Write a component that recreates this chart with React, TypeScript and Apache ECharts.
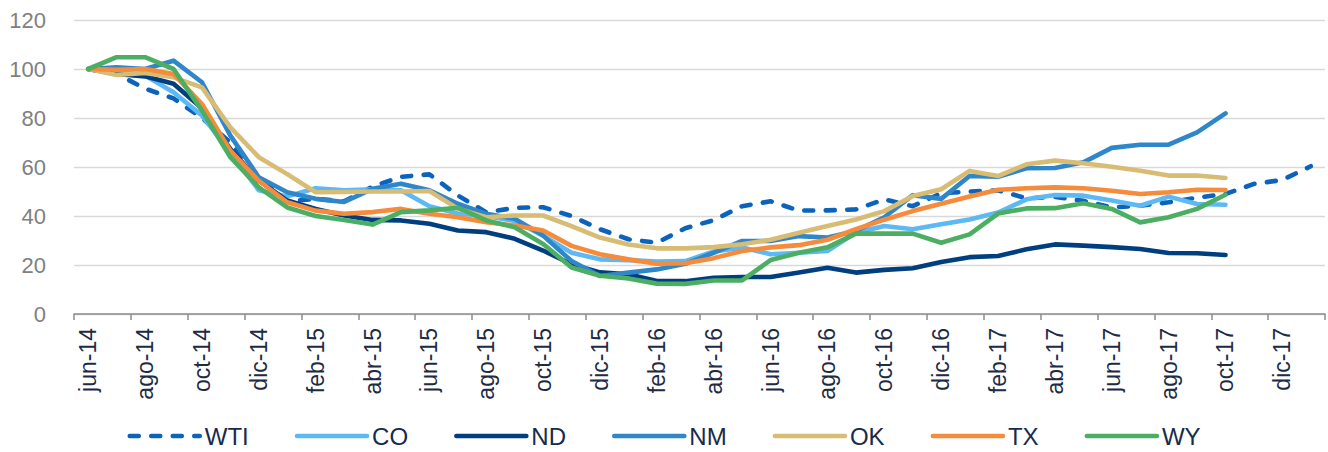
import React, { useEffect, useRef } from "react";
import * as echarts from "echarts";

const months = [
  "jun-14", "jul-14", "ago-14", "sep-14", "oct-14", "nov-14", "dic-14", "ene-15", "feb-15", "mar-15",
  "abr-15", "may-15", "jun-15", "jul-15", "ago-15", "sep-15", "oct-15", "nov-15", "dic-15", "ene-16",
  "feb-16", "mar-16", "abr-16", "may-16", "jun-16", "jul-16", "ago-16", "sep-16", "oct-16", "nov-16",
  "dic-16", "ene-17", "feb-17", "mar-17", "abr-17", "may-17", "jun-17", "jul-17", "ago-17", "sep-17",
  "oct-17", "nov-17", "dic-17", "ene-18",
];

const wti = [
  100, 98, 92, 88, 80, 70, 56, 46, 47, 46,
  52, 56, 57, 48.4, 41.5, 43.3, 43.6, 40, 34.6, 30.5,
  29.1, 35, 38.3, 44, 46, 42.2, 42.3, 42.7, 46.8, 44,
  49.3, 50, 50.5, 47.2, 47.8, 46.2, 43.5, 44.2, 45.6, 47.5,
  49, 53.1, 54.7, 60.3,
];
const co = [
  100, 99, 97.3, 90.5, 81, 66, 50.5, 48, 51.3, 50.5,
  50.9, 50.5, 44, 41, 40, 38, 32, 25, 22.3, 22,
  21.4, 21.6, 25.5, 27.1, 24.4, 25, 25.7, 33.2, 35.9, 34.6,
  36.6, 38.6, 41.4, 46.8, 48.6, 48.3, 46.3, 44.2, 47.9, 44.9,
  44.6,
];
const nd = [
  100, 98, 97, 94, 84, 67.3, 54.4, 46.3, 42.9, 40.2,
  38.4, 38.2, 36.8, 34.1, 33.4, 30.7, 25.9, 20.3, 17, 16.2,
  13.5, 13.4, 14.8, 15.1, 15.1, 16.9, 18.9, 16.9, 18, 18.7,
  21.2, 23.2, 23.7, 26.4, 28.4, 27.9, 27.3, 26.5, 24.9, 24.8,
  24.1,
];
const nm = [
  100, 100.7, 100, 103.4, 94.6, 72.8, 55.8, 49.7, 47, 45.7,
  51.1, 53.2, 50.5, 45, 40.9, 38.9, 32, 21.6, 15.5, 16.9,
  18.2, 20.5, 25, 29.8, 29.8, 31.8, 31.2, 33.9, 39.5, 48.5,
  47, 56.3, 56, 59.5, 59.6, 61.9, 67.8, 69.1, 69.1, 74.1,
  81.9,
];
const ok = [
  100, 97.6, 98.4, 96.6, 92.5, 76.2, 64, 57.1, 49.7, 49.8,
  50, 50, 50.2, 43, 39.5, 40.2, 40.2, 35.9, 31.2, 28.4,
  26.8, 26.8, 27.3, 28.5, 30.3, 33.2, 35.9, 38.6, 42, 48.2,
  50.9, 58.4, 56.3, 61.1, 62.6, 61.5, 60.1, 58.5, 56.5, 56.5,
  55.5,
];
const tx = [
  100, 99.7, 100, 98, 85.7, 66.7, 54.4, 45.6, 42.2, 40.9,
  41.6, 42.9, 40.9, 39.5, 37.5, 36.1, 34.1, 27.8, 24.4, 22.3,
  20.5, 20.7, 22.8, 25.7, 27.2, 28.1, 30.3, 34.6, 38.5, 42,
  45, 48, 50.7, 51.3, 51.7, 51.3, 50.3, 49, 49.7, 50.7,
  50.6,
];
const wy = [
  100, 104.8, 104.8, 100, 83, 64, 51.7, 43.5, 40, 38.4,
  36.5, 41.6, 42.3, 43.4, 38.2, 35.4, 28.6, 19, 15.6, 14.5,
  12.4, 12.3, 13.7, 13.7, 22, 25, 27.2, 32.8, 32.8, 32.8,
  29.1, 32.5, 41, 43.1, 43.2, 45.2, 42.9, 37.4, 39.5, 42.9,
  48.7,
];

const seriesNames = ["WTI", "CO", "ND", "NM", "OK", "TX", "WY"];
const seriesData = [wti, co, nd, nm, ok, tx, wy];
const seriesColors = ["#0B63BC", "#5DB9F3", "#003F7F", "#2F87C9", "#D8BC74", "#F58B3B", "#4BAE62"];

export default function App() {
  const ref = useRef<HTMLDivElement>(null);

  useEffect(() => {
    if (!ref.current) return;
    const chart = echarts.init(ref.current, undefined, { renderer: "svg" });
    chart.setOption({
      animation: false,
      backgroundColor: "#ffffff",
      grid: { left: 74, right: 3, top: 20, bottom: 138, containLabel: false },
      legend: {
        data: seriesNames,
        left: "center",
        top: 424,
        padding: 0,
        itemWidth: 70,
        itemHeight: 26,
        itemGap: 46,
        itemStyle: { opacity: 0 },
        lineStyle: { width: 4.6, cap: "round" },
        textStyle: {
          fontFamily: "'Liberation Sans Narrow', 'Arial Narrow', 'Liberation Sans', Arial, sans-serif",
          fontSize: 24,
          color: "#172B4D",
        },
      },
      xAxis: {
        type: "category",
        data: months,
        boundaryGap: true,
        axisLine: { lineStyle: { color: "#8C8C8C", width: 1.5 } },
        axisTick: { show: true, interval: 1, length: 6, lineStyle: { color: "#8C8C8C", width: 1.5 } },
        axisLabel: {
          interval: 1,
          rotate: 90,
          margin: 14,
          fontSize: 23,
          fontFamily: "'Liberation Sans', Arial, sans-serif",
          color: "#1D2B45",
        },
        splitLine: { show: false },
      },
      yAxis: {
        type: "value",
        min: 0,
        max: 120,
        interval: 20,
        axisLine: { show: false },
        axisTick: { show: false },
        axisLabel: {
          margin: 28,
          fontSize: 22,
          fontFamily: "'Liberation Sans', Arial, sans-serif",
          color: "#808080",
        },
        splitLine: { lineStyle: { color: "#D9D9D9", width: 1.3 } },
      },
      series: seriesNames.map((name, i) => ({
        name,
        type: "line",
        data: seriesData[i],
        symbol: "none",
        showSymbol: false,
        smooth: false,
        color: seriesColors[i],
        lineStyle: {
          color: seriesColors[i],
          width: 4.6,
          type: i === 0 ? [9, 12.5] : "solid",
          cap: "round",
          join: "round",
        },
        emphasis: { disabled: true },
      })),
    });
    return () => chart.dispose();
  }, []);

  return (
    <div
      ref={ref}
      style={{ position: "fixed", left: 0, top: 0, width: 1328, height: 452, background: "#fff" }}
    />
  );
}
